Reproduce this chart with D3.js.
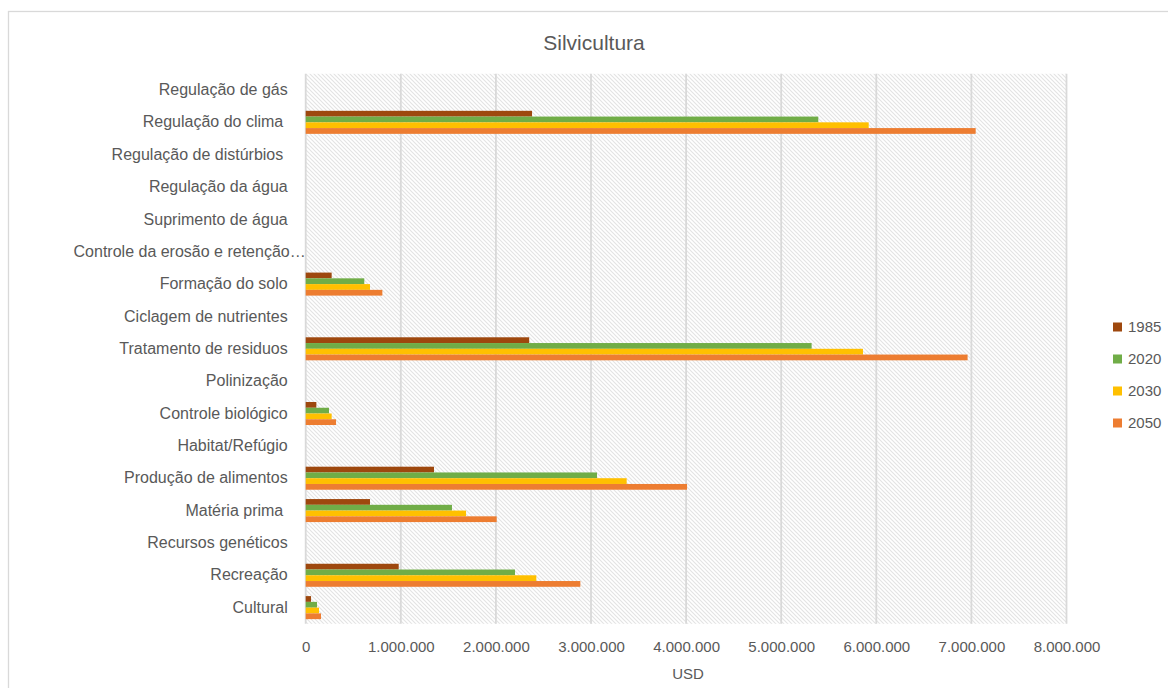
<!DOCTYPE html>
<html>
<head>
<meta charset="utf-8">
<script src="https://cdn.jsdelivr.net/npm/d3@7"></script>
<style>
  html, body { margin: 0; padding: 0; background: #fff; }
  svg { display: block; }
  text { font-family: "Liberation Sans", Arial, sans-serif; fill: #595959; }
</style>
</head>
<body>
<svg id="chart" width="1168" height="688"></svg>
<script>
// Ecosystem service categories (top to bottom)
const categories = [
  "Regulação de gás",
  "Regulação do clima ",
  "Regulação de distúrbios ",
  "Regulação da água",
  "Suprimento de água",
  "Controle da erosão e retenção…",
  "Formação do solo",
  "Ciclagem de nutrientes",
  "Tratamento de residuos",
  "Polinização",
  "Controle biológico",
  "Habitat/Refúgio",
  "Produção de alimentos",
  "Matéria prima ",
  "Recursos genéticos",
  "Recreação",
  "Cultural"
];

const years = ["1985", "2020", "2030", "2050"];

// Values in USD per category, one array per year
const values1985 = [0, 2380000, 0, 0, 0, 0, 273000, 0, 2350000, 0, 112000, 0, 1349000, 676000, 0, 978000, 56000];
const values2020 = [0, 5390000, 0, 0, 0, 0, 616000, 0, 5320000, 0, 245000, 0, 3063000, 1538000, 0, 2201000, 119000];
const values2030 = [0, 5920000, 0, 0, 0, 0, 676000, 0, 5860000, 0, 273000, 0, 3375000, 1686000, 0, 2425000, 140000];
const values2050 = [0, 7045000, 0, 0, 0, 0, 806000, 0, 6960000, 0, 319000, 0, 4010000, 2008000, 0, 2888000, 161000];

const xTicks = [0, 1000000, 2000000, 3000000, 4000000, 5000000, 6000000, 7000000, 8000000];
const colors = ["#9E480E", "#70AD47", "#FFC000", "#ED7D31"];

const seriesValues = [values1985, values2020, values2030, values2050];
const rows = categories.map((c, i) => ({
  category: c,
  values: years.map((yr, j) => ({ year: yr, value: seriesValues[j][i] }))
}));

const svg = d3.select("#chart");

// Chart frame
svg.append("rect")
  .attr("x", 8.5).attr("y", 11.5)
  .attr("width", 1200).attr("height", 700)
  .attr("fill", "#fff").attr("stroke", "#d9d9d9").attr("stroke-width", 1.3);

// Diagonal hatch for the plot background
const defs = svg.append("defs");
const pat = defs.append("pattern")
  .attr("id", "hatch")
  .attr("patternUnits", "userSpaceOnUse")
  .attr("width", 4).attr("height", 4);
pat.append("rect").attr("width", 4).attr("height", 4).attr("fill", "#fff");
pat.append("path")
  .attr("d", "M0,0 L4,4 M-1,3 L1,5 M3,-1 L5,1")
  .attr("stroke", "#e3e3e3").attr("stroke-width", 1.1);

const plot = { left: 305.7, right: 1066.5, top: 73.8, bottom: 623.8 };

const x = d3.scaleLinear().domain([0, 8000000]).range([plot.left, plot.right]);
const y = d3.scaleBand().domain(categories).range([plot.top, plot.bottom]).paddingInner(0).paddingOuter(0);
const ySub = d3.scaleBand().domain(years).range([0, y.bandwidth()]).paddingInner(0).paddingOuter(0.81);
const color = d3.scaleOrdinal().domain(years).range(colors);

svg.append("rect")
  .attr("x", plot.left).attr("y", plot.top)
  .attr("width", plot.right - plot.left).attr("height", plot.bottom - plot.top)
  .attr("fill", "url(#hatch)");

// Vertical gridlines
svg.append("g")
  .selectAll("line")
  .data(xTicks)
  .join("line")
  .attr("x1", d => x(d)).attr("x2", d => x(d))
  .attr("y1", plot.top).attr("y2", plot.bottom)
  .attr("stroke", "#d9d9d9").attr("stroke-width", 1.8);

// Bars
svg.append("g")
  .selectAll("g")
  .data(rows)
  .join("g")
  .attr("transform", d => `translate(0,${y(d.category)})`)
  .selectAll("rect")
  .data(d => d.values.filter(v => v.value > 0))
  .join("rect")
  .attr("x", x(0))
  .attr("y", d => ySub(d.year))
  .attr("width", d => x(d.value) - x(0))
  .attr("height", ySub.bandwidth())
  .attr("fill", d => color(d.year));

// Category axis (labels only)
const yAxis = d3.axisLeft(y).tickSize(0).tickPadding(0);
const gy = svg.append("g")
  .attr("transform", `translate(${plot.left - 18},0)`)
  .call(yAxis);
gy.select(".domain").remove();
gy.selectAll("text")
  .style("font-family", '"Liberation Sans", Arial, sans-serif')
  .style("font-size", "16px")
  .style("white-space", "pre")
  .attr("fill", "#595959");
// The truncated label runs right up to the plot edge
gy.selectAll(".tick")
  .filter(d => d.endsWith("…"))
  .select("text")
  .attr("x", 18);

// Value axis (labels only)
const fmt = v => d3.format(",")(v).replace(/,/g, ".");
const xAxis = d3.axisBottom(x).tickValues(xTicks).tickFormat(fmt).tickSize(0).tickPadding(0);
const gx = svg.append("g")
  .attr("transform", `translate(0,${plot.bottom + 18})`)
  .call(xAxis);
gx.select(".domain").remove();
gx.selectAll("text")
  .style("font-family", '"Liberation Sans", Arial, sans-serif')
  .style("font-size", "15px")
  .attr("fill", "#595959");

// Axis title
svg.append("text")
  .attr("x", (plot.left + plot.right) / 2 + 2)
  .attr("y", 679)
  .attr("text-anchor", "middle")
  .style("font-size", "15px")
  .text("USD");

// Chart title
svg.append("text")
  .attr("x", 594)
  .attr("y", 50)
  .attr("text-anchor", "middle")
  .style("font-size", "21px")
  .text("Silvicultura");

// Legend
const legend = svg.append("g")
  .selectAll("g")
  .data(years)
  .join("g")
  .attr("transform", (d, i) => `translate(1113,${327 + i * 32})`);
legend.append("rect")
  .attr("x", 0).attr("y", -4.5)
  .attr("width", 9).attr("height", 9)
  .attr("fill", d => color(d));
legend.append("text")
  .attr("x", 15).attr("y", 0)
  .attr("dy", "0.36em")
  .style("font-size", "15px")
  .text(d => d);
</script>
</body>
</html>
